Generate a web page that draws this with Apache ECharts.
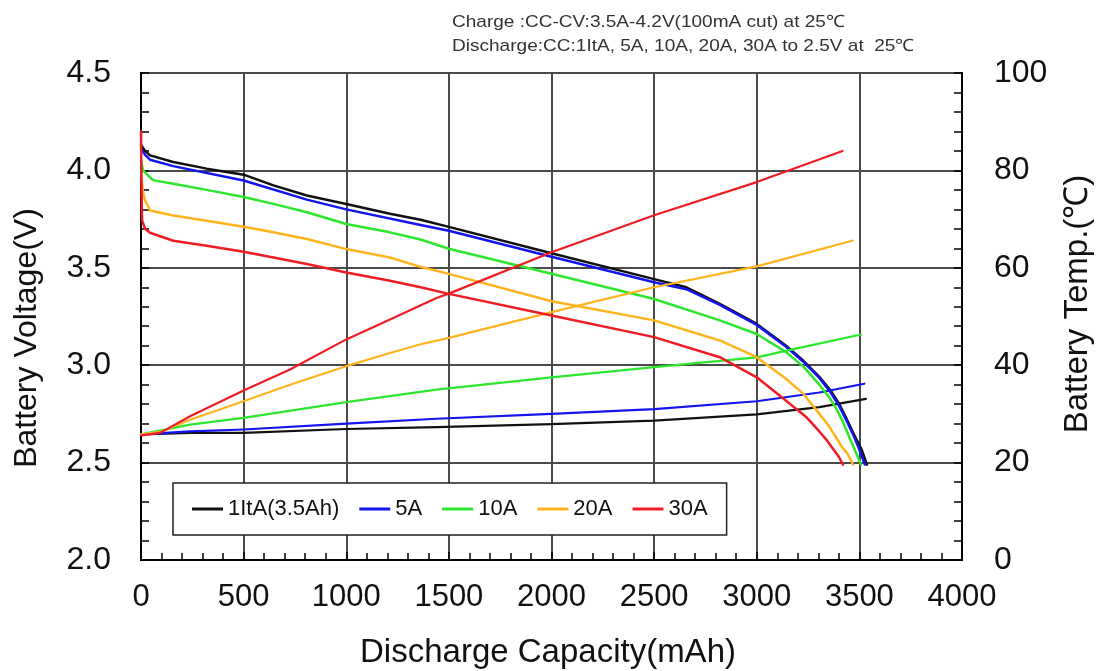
<!DOCTYPE html>
<html>
<head>
<meta charset="utf-8">
<script src="https://cdn.jsdelivr.net/npm/echarts@6/dist/echarts.min.js"></script>
<style>
html,body{margin:0;padding:0;background:#fff;}
#chart{width:1103px;height:671px;}
</style>
</head>
<body>
<div id="chart"></div>
<script>
// ---- Data (x = discharge capacity mAh) ----
var seriesNames = ['1ItA(3.5Ah)', '5A', '10A', '20A', '30A'];
var xTicks = [0, 500, 1000, 1500, 2000, 2500, 3000, 3500, 4000];
var voltTicks = [2.0, 2.5, 3.0, 3.5, 4.0, 4.5];
var tempTicks = [0, 20, 40, 60, 80, 100];

var volt1ItA = [[0,4.13],[20,4.10],[44,4.077],[157,4.043],[320,4.009],[500,3.978],[645,3.923],[808,3.871],[1000,3.828],[1213,3.777],[1362,3.747],[1500,3.71],[2000,3.575],[2500,3.442],[2657,3.40],[2820,3.315],[3000,3.212],[3143,3.10],[3230,3.02],[3305,2.94],[3360,2.87],[3402,2.80],[3440,2.72],[3467,2.66],[3490,2.61],[3510,2.57],[3537,2.49]];
var volt5A = [[0,4.11],[20,4.08],[44,4.055],[157,4.022],[500,3.948],[808,3.85],[1000,3.80],[1362,3.72],[1500,3.69],[2000,3.557],[2500,3.426],[2657,3.39],[2820,3.31],[3000,3.207],[3143,3.095],[3230,3.015],[3305,2.935],[3360,2.86],[3402,2.79],[3440,2.71],[3467,2.65],[3495,2.58],[3527,2.49]];
var volt10A = [[0,4.05],[10,4.0],[58,3.95],[157,3.931],[320,3.90],[500,3.863],[645,3.828],[808,3.785],[1000,3.725],[1213,3.682],[1362,3.645],[1500,3.598],[2000,3.469],[2500,3.34],[2820,3.23],[3000,3.16],[3143,3.067],[3230,2.99],[3305,2.90],[3350,2.84],[3386,2.78],[3420,2.71],[3451,2.63],[3480,2.56],[3508,2.49]];
var volt20A = [[0,4.0],[8,3.90],[19,3.848],[44,3.794],[157,3.768],[320,3.742],[500,3.711],[645,3.682],[808,3.648],[1000,3.596],[1213,3.553],[1362,3.505],[1500,3.469],[2000,3.328],[2500,3.23],[2820,3.127],[3000,3.041],[3143,2.93],[3230,2.85],[3305,2.75],[3350,2.69],[3386,2.63],[3415,2.58],[3440,2.55],[3469,2.49]];
var volt30A = [[0,4.2],[2,3.95],[5,3.745],[20,3.70],[44,3.68],[157,3.639],[320,3.613],[500,3.582],[645,3.553],[808,3.519],[1000,3.476],[1213,3.433],[1362,3.40],[1500,3.366],[2000,3.255],[2500,3.144],[2820,3.041],[3000,2.938],[3143,2.818],[3245,2.73],[3305,2.66],[3345,2.61],[3372,2.57],[3400,2.53],[3420,2.49]];

var temp1ItA = [[0,25.8],[239,26.1],[500,26.1],[1000,26.9],[1440,27.3],[2000,27.9],[2500,28.6],[3000,29.9],[3305,31.4],[3532,33.1]];
var temp5A = [[0,25.8],[239,26.4],[500,26.8],[1000,28.0],[1440,29.0],[2000,30.0],[2500,31.0],[3000,32.6],[3305,34.4],[3524,36.2]];
var temp10A = [[0,25.8],[239,27.8],[500,29.2],[1000,32.4],[1440,35.0],[2000,37.5],[2500,39.6],[3000,41.6],[3224,43.7],[3508,46.3]];
var temp20A = [[0,25.8],[93,26.3],[239,28.8],[500,32.6],[726,36.0],[1000,39.8],[1213,42.5],[1362,44.3],[1500,45.6],[2000,50.9],[2500,56.0],[3000,60.3],[3469,65.6]];
var temp30A = [[0,25.6],[93,26.1],[239,29.5],[500,34.8],[726,39.1],[1000,45.3],[1213,49.4],[1440,53.8],[1500,54.7],[2000,63.2],[2500,70.8],[3000,77.6],[3418,84.0]];

var colors = ['#111111', '#1414ee', '#2de62d', '#ffb41e', '#ee1c25'];
var voltData = [volt1ItA, volt5A, volt10A, volt20A, volt30A];
var tempData = [temp1ItA, temp5A, temp10A, temp20A, temp30A];

var FONT = "'Liberation Sans', Arial, sans-serif";
var chart = echarts.init(document.getElementById('chart'), null, {renderer: 'canvas'});

var series = [];
for (var i = 0; i < seriesNames.length; i++) {
  series.push({
    name: seriesNames[i], type: 'line', xAxisIndex: 0, yAxisIndex: 0,
    data: voltData[i], showSymbol: false, smooth: false,
    lineStyle: {color: colors[i], width: 2.5, join: 'round', cap: 'round'}, itemStyle: {color: colors[i]}, z: 3
  });
  series.push({
    name: seriesNames[i], type: 'line', xAxisIndex: 0, yAxisIndex: 1,
    data: tempData[i], showSymbol: false, smooth: false,
    lineStyle: {color: colors[i], width: 2.2, join: 'round', cap: 'round'}, itemStyle: {color: colors[i]}, z: 3
  });
}

var splitLine = {show: true, lineStyle: {color: '#4a4a4a', width: 2}};

var option = {
  animation: false,
  backgroundColor: '#ffffff',
  textStyle: {fontFamily: FONT},
  grid: {left: 141, right: 141, top: 73, bottom: 111, show: true, borderColor: '#000', borderWidth: 2, backgroundColor: 'transparent', containLabel: false},
  legend: {
    data: seriesNames, left: 173, top: 483, orient: 'horizontal',
    icon: 'rect', itemWidth: 31, itemHeight: 3, itemGap: 20,
    padding: [15, 19, 15, 19],
    backgroundColor: '#fff', borderColor: '#222', borderWidth: 1.5,
    textStyle: {fontSize: 22, color: '#111', fontFamily: FONT}
  },
  xAxis: [{
    type: 'value', min: xTicks[0], max: xTicks[xTicks.length - 1], interval: 500,
    axisLine: {show: true, onZero: false, lineStyle: {color: '#000', width: 2}},
    axisTick: {show: true, inside: true, length: 8, lineStyle: {color: '#000', width: 1.5}},
    minorTick: {show: true, splitNumber: 5, length: 7, lineStyle: {color: '#000', width: 1.5}},
    axisLabel: {fontSize: 31, color: '#111', margin: 22, fontFamily: FONT, formatter: function (v) { return String(v); }},
    splitLine: splitLine
  }],
  yAxis: [{
    type: 'value', min: voltTicks[0], max: voltTicks[voltTicks.length - 1], interval: 0.5, position: 'left',
    axisLine: {show: true, lineStyle: {color: '#000', width: 2}},
    axisTick: {show: true, inside: true, length: 8, lineStyle: {color: '#000', width: 1.5}},
    minorTick: {show: true, splitNumber: 5, length: 8, lineStyle: {color: '#000', width: 1.5}},
    axisLabel: {fontSize: 32, color: '#111', margin: 30, fontFamily: FONT, formatter: function (v) { return v.toFixed(1); }},
    splitLine: splitLine
  }, {
    type: 'value', min: tempTicks[0], max: tempTicks[tempTicks.length - 1], interval: 20, position: 'right',
    axisLine: {show: true, lineStyle: {color: '#000', width: 2}},
    axisTick: {show: true, inside: true, length: 8, lineStyle: {color: '#000', width: 1.5}},
    minorTick: {show: true, splitNumber: 5, length: 8, lineStyle: {color: '#000', width: 1.5}},
    axisLabel: {fontSize: 32, color: '#111', margin: 32, fontFamily: FONT},
    splitLine: {show: false}
  }],
  graphic: [
    {type: 'text', x: 452, y: 14, scaleX: 1.12, style: {text: 'Charge :CC-CV:3.5A-4.2V(100mA cut) at 25\u2103', fontSize: 17, fill: '#333', fontFamily: FONT, verticalAlign: 'top'}},
    {type: 'text', x: 452, y: 38, scaleX: 1.12, style: {text: 'Discharge:CC:1ItA, 5A, 10A, 20A, 30A to 2.5V at  25\u2103', fontSize: 17, fill: '#333', fontFamily: FONT, verticalAlign: 'top'}},
    {type: 'text', x: 27, y: 338, rotation: Math.PI / 2, style: {text: 'Battery Voltage(V)', fontSize: 32, fill: '#111', fontFamily: FONT, align: 'center', verticalAlign: 'middle'}},
    {type: 'text', x: 1078, y: 304, rotation: Math.PI / 2, style: {text: 'Battery Temp.(\u2103)', fontSize: 33, fill: '#111', fontFamily: FONT, align: 'center', verticalAlign: 'middle'}},
    {type: 'text', x: 548, y: 653, style: {text: 'Discharge Capacity(mAh)', fontSize: 33, fill: '#111', fontFamily: FONT, align: 'center', verticalAlign: 'middle'}}
  ],
  series: series
};
chart.setOption(option);
</script>
</body>
</html>
